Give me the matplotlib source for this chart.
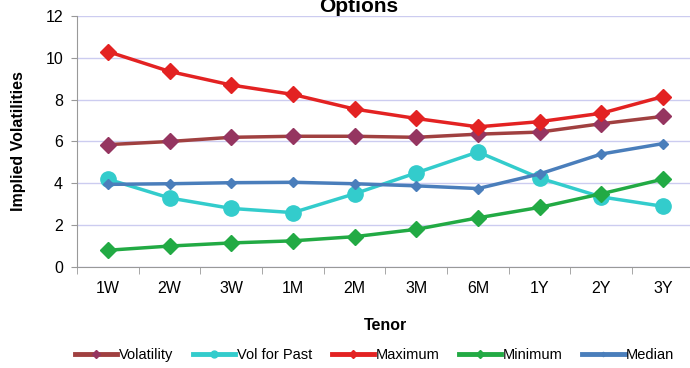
import matplotlib
matplotlib.use("Agg")
import matplotlib.pyplot as plt
import numpy as np

plt.rcParams['font.family'] = ['Liberation Sans', 'DejaVu Sans']

tenors = ["1W", "2W", "3W", "1M", "2M", "3M", "6M", "1Y", "2Y", "3Y"]
volatility = [5.85, 6.0, 6.2, 6.25, 6.25, 6.2, 6.35, 6.45, 6.85, 7.2]
vol_past = [4.2, 3.3, 2.8, 2.6, 3.5, 4.5, 5.5, 4.25, 3.35, 2.9]
maximum = [10.3, 9.35, 8.7, 8.25, 7.55, 7.1, 6.7, 6.95, 7.35, 8.15]
minimum = [0.8, 1.0, 1.15, 1.25, 1.45, 1.8, 2.35, 2.85, 3.5, 4.2]
median = [3.95, 3.98, 4.03, 4.05, 3.98, 3.88, 3.75, 4.45, 5.4, 5.9]

fig = plt.figure(figsize=(6.9, 3.68), dpi=100)
ax = fig.add_axes([0.1116, 0.2745, 0.894, 0.682])
x = np.arange(len(tenors))

ax.plot(x, volatility, color='#a04040', lw=2.5, marker='D', ms=8,
        mfc='#953560', mec='#953560', label='Volatility', zorder=3)
ax.plot(x, vol_past, color='#33cccc', lw=2.5, marker='o', ms=11,
        mfc='#33cccc', mec='#33cccc', label='Vol for Past', zorder=3)
ax.plot(x, maximum, color='#e32222', lw=2.5, marker='D', ms=8,
        mfc='#e32222', mec='#e32222', label='Maximum', zorder=3)
ax.plot(x, minimum, color='#22aa44', lw=2.5, marker='D', ms=8,
        mfc='#22aa44', mec='#22aa44', label='Minimum', zorder=3)
ax.plot(x, median, color='#4a7ebb', lw=2.5, marker='D', ms=5,
        mfc='#4a7ebb', mec='#4a7ebb', label='Median', zorder=3)

ax.set_xlim(-0.5, len(tenors) - 0.5)
ax.set_ylim(0, 12)
ax.set_yticks(range(0, 13, 2))
ax.set_xticks(x)
ax.set_xticklabels(tenors)
ax.set_xticks(np.arange(-0.5, len(tenors) - 0.5, 1), minor=True)
ax.tick_params(axis='x', which='major', length=0, pad=10, labelsize=11.5)
ax.tick_params(axis='x', which='minor', length=5, color='#999999')
ax.tick_params(axis='y', length=4, color='#999999', labelsize=11.5, pad=6)
ax.grid(axis='y', color='#ccccf0', lw=1)
ax.set_axisbelow(True)
for s in ['top', 'right']:
    ax.spines[s].set_visible(False)
for s in ['left', 'bottom']:
    ax.spines[s].set_color('#999999')

ax.set_xlabel('Tenor', fontsize=11.5, fontweight='bold', labelpad=16)
ax.set_ylabel('Implied Volatilities', fontsize=11.5, fontweight='bold', labelpad=14)
fig.text(0.52, 0.968, 'Options', ha='center', va='baseline', fontsize=15, fontweight='bold')

handles, labels = ax.get_legend_handles_labels()
leg = fig.legend(handles, labels, loc='center', bbox_to_anchor=(0.543, 0.035), ncol=5,
                 frameon=False, fontsize=10.5, handlelength=2.9, columnspacing=1.35,
                 handletextpad=0.1, markerscale=0.45)
for line in leg.get_lines():
    line.set_linewidth(3.5)

fig.savefig('out.png', dpi=100)
